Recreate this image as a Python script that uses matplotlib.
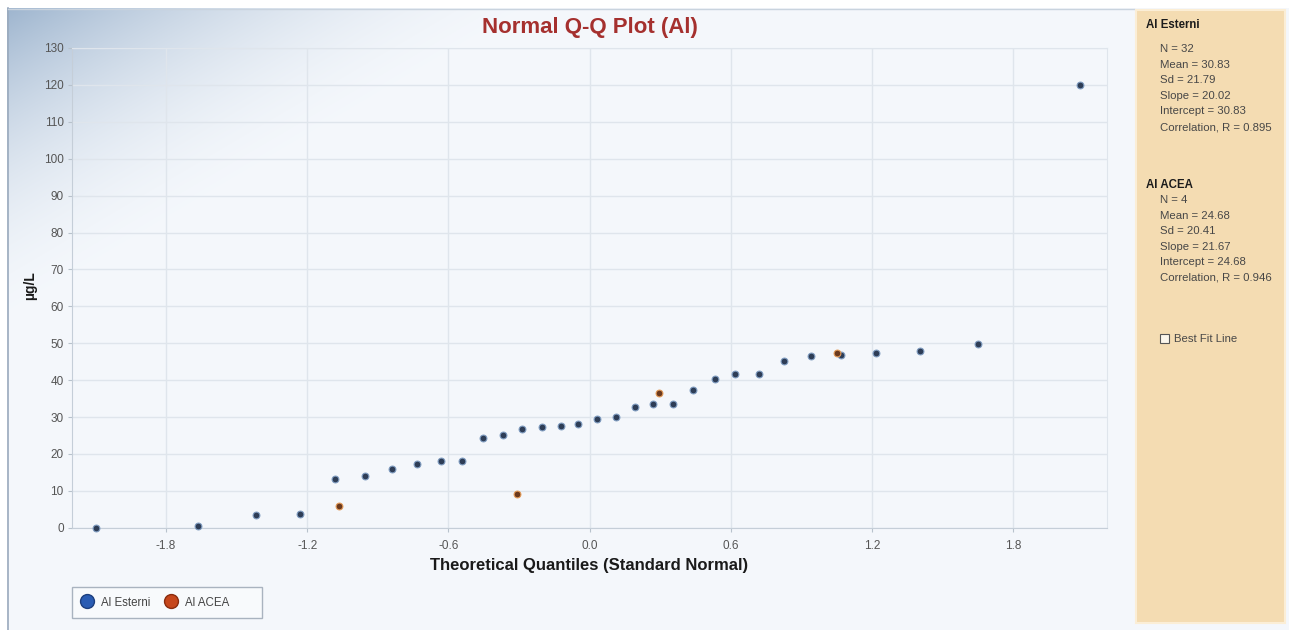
import numpy as np
import matplotlib
matplotlib.use("Agg")
import matplotlib.pyplot as plt
from matplotlib.lines import Line2D
from matplotlib.patches import Rectangle

# ---- data -------------------------------------------------------------
esterni_q = [-2.099, -1.665, -1.418, -1.231, -1.084, -0.953, -0.840, -0.732,
             -0.631, -0.542, -0.454, -0.366, -0.286, -0.204, -0.123, -0.048,
             0.034, 0.111, 0.194, 0.272, 0.355, 0.440, 0.532, 0.620,
             0.720, 0.828, 0.940, 1.071, 1.220, 1.404, 1.652, 2.085]
esterni_val = [0.0, 0.4, 3.4, 3.7, 13.2, 13.9, 15.8, 17.3,
               18.1, 18.0, 24.4, 25.2, 26.7, 27.2, 27.6, 28.1,
               29.5, 29.9, 32.8, 33.6, 33.6, 37.4, 40.3, 41.7,
               41.7, 45.2, 46.6, 46.9, 47.3, 47.9, 49.8, 120.0]

acea_q = [-1.067, -0.308, 0.295, 1.052]
acea_val = [6.0, 9.0, 36.6, 47.3]

x_ticks = [-1.8, -1.2, -0.6, 0.0, 0.6, 1.2, 1.8]
x_ticklabels = ["-1.8", "-1.2", "-0.6", "0.0", "0.6", "1.2", "1.8"]
y_ticks = list(range(0, 131, 10))

series_names = ["Al Esterni", "Al ACEA"]
stats_esterni = ["N = 32", "Mean = 30.83", "Sd = 21.79", "Slope = 20.02",
                 "Intercept = 30.83", "Correlation, R = 0.895"]
stats_acea = ["N = 4", "Mean = 24.68", "Sd = 20.41", "Slope = 21.67",
              "Intercept = 24.68", "Correlation, R = 0.946"]

W, H = 1289, 630
FONT = ["Liberation Sans", "DejaVu Sans"]
plt.rcParams["font.family"] = FONT

fig = plt.figure(figsize=(W / 100, H / 100), dpi=100)

# ---- background canvas (pixel coordinates) ---------------------------
bg = fig.add_axes([0, 0, 1, 1], zorder=-10)
bg.set_xlim(0, W)
bg.set_ylim(H, 0)
bg.axis("off")

yy, xx = np.mgrid[0:H, 0:W].astype(float)
base = np.array([0.960, 0.972, 0.988])
corner = np.array([0.62, 0.71, 0.81])
w = np.clip(1.0 - ((xx - 7) / 560.0 + (yy - 8) / 330.0), 0, 1) ** 1.9
img = base[None, None, :] * (1 - w[..., None]) + corner[None, None, :] * w[..., None]
img[(xx < 7) | (yy < 8)] = 1.0
bg.imshow(img, extent=(0, W, H, 0), aspect="auto", interpolation="bilinear", zorder=0)

# chart frame
bg.plot([7.5, 7.5], [8, H], color="#9aaabd", lw=1.2, zorder=1)
bg.plot([7.5, 1134], [8.5, 8.5], color="#c9d3de", lw=1.0, zorder=1)

# statistics side panel
bg.add_patch(Rectangle((1136, 10), W - 1136 - 4, 623 - 10,
                       facecolor="#f4dcb2", edgecolor="#fbeed6", lw=1.5, zorder=2))

step = 15.6
y0 = 25
bg.text(1146, y0, series_names[0], fontsize=8.3, fontweight="bold",
        color="#1c1c1c", va="center", ha="left", zorder=3)
for i, s in enumerate(stats_esterni):
    bg.text(1160, 49 + step * i, s, fontsize=8.2, color="#474747",
            va="center", ha="left", zorder=3)
y1 = 185
bg.text(1146, y1, series_names[1], fontsize=8.3, fontweight="bold",
        color="#1c1c1c", va="center", ha="left", zorder=3)
for i, s in enumerate(stats_acea):
    bg.text(1160, 200 + step * i, s, fontsize=8.2, color="#474747",
            va="center", ha="left", zorder=3)
bg.add_patch(Rectangle((1160, 334), 9, 9, facecolor="#fbf6ec",
                       edgecolor="#555555", lw=0.8, zorder=3))
bg.text(1174, 338.5, "Best Fit Line", fontsize=8.2, color="#474747",
        va="center", ha="left", zorder=3)

# legend frame
bg.add_patch(Rectangle((72, 587), 190, 31, facecolor="#f8fafc",
                       edgecolor="#a9b3bf", lw=1.0, zorder=2))

# ---- main Q-Q axes ----------------------------------------------------
left, right, top, bottom = 72, 1107, 48, 527.7
ax = fig.add_axes([left / W, 1 - bottom / H, (right - left) / W, (bottom - top) / H])
ax.set_facecolor("none")
ax.set_xlim(-2.2, 2.2)
ax.set_ylim(0, 130)

ax.set_xticks(x_ticks)
ax.set_xticklabels(x_ticklabels)
ax.set_yticks(y_ticks)
ax.tick_params(axis="both", labelsize=8.5, labelcolor="#555555",
               color="#b8c2cc", length=3, width=0.8)
ax.tick_params(axis="x", pad=6)
ax.tick_params(axis="y", pad=3)
ax.grid(True, color="#dfe5ec", lw=1.0)
ax.set_axisbelow(True)
for side in ["top", "right"]:
    ax.spines[side].set_color("#dfe5ec")
for side in ["left", "bottom"]:
    ax.spines[side].set_color("#c5ced8")

ax.scatter(esterni_q, esterni_val, s=24, facecolor="#2e3d56",
           edgecolor="#7f9cc0", linewidths=0.8, zorder=3, clip_on=False)
ax.scatter(acea_q, acea_val, s=24, facecolor="#6b3a1e",
           edgecolor="#e39a58", linewidths=0.8, zorder=4, clip_on=False)

ax.set_xlabel("Theoretical Quantiles (Standard Normal)", fontsize=12,
              fontweight="bold", color="#1a1a1a", labelpad=4)
fig.text(30 / W, 1 - 286 / H, "µg/L", rotation=90, fontsize=10,
         fontweight="bold", color="#1a1a1a", ha="center", va="center")

fig.text(590 / W, 1 - 27 / H, "Normal Q-Q Plot (Al)", fontsize=16,
         fontweight="bold", color="#a5302e", ha="center", va="center")

# ---- legend -----------------------------------------------------------
handles = [
    Line2D([], [], ls="none", marker="o", markersize=10,
           markerfacecolor="#2a5cb3", markeredgecolor="#1d3f7e"),
    Line2D([], [], ls="none", marker="o", markersize=10,
           markerfacecolor="#c6461b", markeredgecolor="#8a2c0e"),
]
leg = fig.legend(handles, series_names, loc="center left",
                 bbox_to_anchor=(79 / W, 1 - 602.5 / H), ncol=2,
                 fontsize=8.3, frameon=False,
                 borderpad=0, handletextpad=0.5, columnspacing=1.1,
                 handlelength=1.4, borderaxespad=0)
for t in leg.get_texts():
    t.set_color("#444444")

fig.savefig("out.png", dpi=100)
